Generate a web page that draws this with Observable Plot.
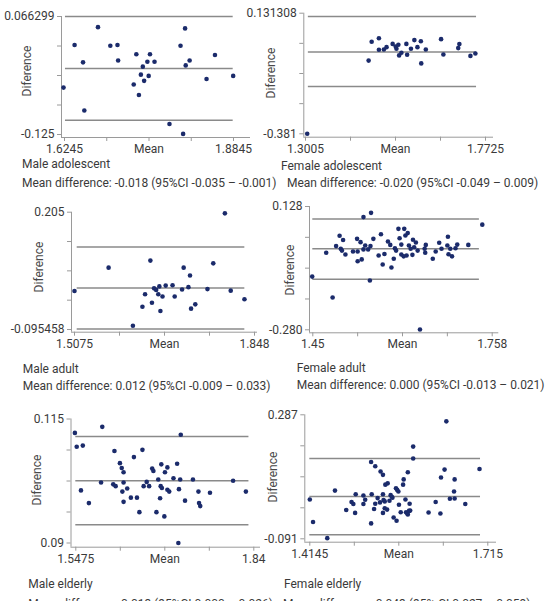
<!DOCTYPE html>
<html><head><meta charset="utf-8">
<script src="https://cdn.jsdelivr.net/npm/d3@7"></script>
<script src="https://cdn.jsdelivr.net/npm/@observablehq/plot@0.6"></script>
<style>
html,body{margin:0;padding:0;background:#fff;overflow:hidden;}
#root{position:relative;width:547px;height:601px;overflow:hidden;font-family:Roboto,"Liberation Sans",sans-serif;}
#root svg{position:absolute;left:0;top:0;}
.cap{position:absolute;white-space:nowrap;font-size:12px;line-height:14px;color:#3a3a3a;}
.ylab{position:absolute;white-space:nowrap;font-size:12px;color:#4a4a4a;transform:translate(-50%,-50%) rotate(-90deg);}
</style></head>
<body><div id="root"></div>
<script>
// ---------- data ----------
const maleAdolescentMean = [1.623,1.640,1.653,1.655,1.676,1.695,1.706,1.707,1.735,1.731,1.739,1.742,1.745,1.747,1.752,1.754,1.756,1.763,1.786,1.803,1.807,1.810,1.811,1.817,1.843,1.856,1.884];
const maleAdolescentDiff = [-0.049,0.020,-0.008,-0.086,0.049,0.019,0.020,-0.005,0.005,-0.044,-0.061,-0.028,-0.015,-0.038,-0.007,-0.030,0.005,-0.007,-0.108,0.019,-0.124,0.047,-0.013,-0.005,-0.035,0.004,-0.030];
const maleAdolescentLimits = [0.0663,-0.018,-0.102];
const maleAdolescentSpan = [1.626,1.884];
const maleAdolescentX = [1.6245,1.8845];
const maleAdolescentY = [-0.125,0.066299];
const maleAdolescentXLabels = ["1.6245","","Mean","","1.8845"];
const maleAdolescentYLabels = ["-0.125","","","","0.066299"];

const femaleAdolescentMean = [1.305,1.466,1.474,1.493,1.493,1.506,1.513,1.529,1.537,1.539,1.544,1.546,1.552,1.565,1.567,1.577,1.586,1.594,1.603,1.604,1.616,1.656,1.662,1.701,1.704,1.733,1.746];
const femaleAdolescentDiff = [-0.381,-0.070,0.010,0.025,-0.024,-0.023,-0.013,0.001,-0.010,-0.020,-0.003,-0.048,-0.037,0.001,-0.045,-0.020,0.017,-0.013,0.012,-0.082,-0.023,0.021,-0.044,-0.017,0.000,-0.050,-0.040];
const femaleAdolescentLimits = [0.117,-0.033,-0.180];
const femaleAdolescentSpan = [1.308,1.749];
const femaleAdolescentX = [1.3005,1.7725];
const femaleAdolescentY = [-0.381,0.131308];
const femaleAdolescentXLabels = ["1.3005","","Mean","","1.7725"];
const femaleAdolescentYLabels = ["-0.381","","","","0.131308"];

const maleAdultMean = [1.5075,1.572,1.618,1.636,1.641,1.651,1.654,1.658,1.662,1.666,1.668,1.670,1.674,1.680,1.693,1.697,1.711,1.714,1.723,1.726,1.728,1.736,1.759,1.770,1.792,1.803,1.829];
const maleAdultDiff = [0.003,0.063,-0.086,-0.037,-0.005,0.081,-0.027,0.010,0.006,-0.005,0.015,-0.048,-0.011,0.017,0.018,-0.011,0.007,0.063,0.013,0.043,-0.042,-0.031,0.008,0.074,0.202,0.004,-0.018];
const maleAdultLimits = [0.116,0.011,-0.094];
const maleAdultSpan = [1.5126,1.8297];
const maleAdultX = [1.5075,1.848];
const maleAdultY = [-0.095458,0.205];
const maleAdultXLabels = ["1.5075","","Mean","","1.848"];
const maleAdultYLabels = ["-0.095458","","","","0.205"];

const femaleAdultMean = [1.449,1.473,1.484,1.490,1.496,1.498,1.500,1.502,1.506,1.519,1.526,1.527,1.527,1.532,1.534,1.537,1.537,1.540,1.545,1.548,1.549,1.550,1.554,1.563,1.567,1.570,1.573,1.579,1.583,1.585,1.589,1.591,1.593,1.597,1.599,1.602,1.602,1.606,1.607,1.609,1.611,1.613,1.615,1.618,1.621,1.622,1.624,1.627,1.630,1.634,1.642,1.644,1.643,1.656,1.661,1.667,1.671,1.681,1.682,1.683,1.686,1.689,1.695,1.698,1.717,1.741];
const femaleAdultDiff = [-0.104,-0.025,-0.173,-0.003,0.031,-0.012,-0.018,0.017,-0.031,-0.021,0.021,-0.053,-0.021,0.010,-0.047,0.093,-0.014,-0.001,-0.014,-0.117,-0.003,0.107,0.021,-0.034,0.036,-0.064,-0.029,0.012,0.001,-0.074,-0.045,-0.010,-0.018,0.054,0.023,-0.031,0.002,-0.037,0.054,0.032,-0.034,0.040,-0.001,-0.012,-0.032,0.018,-0.007,0.009,-0.018,-0.279,-0.012,0.001,-0.025,-0.045,-0.021,0.008,-0.012,-0.001,0.028,-0.030,-0.012,-0.037,-0.010,0.002,0.001,0.068];
const femaleAdultLimits = [0.087,-0.012,-0.113];
const femaleAdultSpan = [1.45,1.736];
const femaleAdultX = [1.45,1.758];
const femaleAdultY = [-0.280,0.128];
const femaleAdultXLabels = ["1.45","","Mean","","1.758"];
const femaleAdultYLabels = ["-0.280","","","","0.128"];

const maleElderlyMean = [1.546,1.549,1.559,1.556,1.569,1.591,1.589,1.611,1.609,1.613,1.620,1.623,1.626,1.624,1.626,1.626,1.632,1.638,1.643,1.648,1.652,1.657,1.659,1.664,1.668,1.673,1.675,1.680,1.683,1.686,1.687,1.688,1.689,1.693,1.694,1.698,1.698,1.701,1.708,1.714,1.717,1.716,1.720,1.719,1.727,1.740,1.749,1.750,1.752,1.768,1.806,1.827];
const maleElderlyDiff = [0.092,0.069,0.071,-0.003,-0.024,0.102,0.010,0.062,0.007,0.004,0.042,0.034,0.027,-0.005,0.010,-0.022,0.000,-0.015,0.052,-0.015,-0.039,0.064,0.004,0.011,0.004,0.033,0.029,-0.039,0.015,-0.016,0.004,0.040,0.001,-0.046,0.027,0.035,-0.002,-0.005,0.017,0.041,-0.001,-0.090,0.089,0.015,-0.020,0.015,-0.005,-0.024,-0.029,-0.007,0.013,-0.005];
const maleElderlyLimits = [0.086,0.013,-0.060];
const maleElderlySpan = [1.5475,1.832];
const maleElderlyX = [1.5475,1.84];
const maleElderlyY = [-0.09,0.115];
const maleElderlyXLabels = ["1.5475","","Mean","","1.84"];
const maleElderlyYLabels = ["0.09","","","","0.115"];

const femaleElderlyMean = [1.4145,1.420,1.444,1.457,1.476,1.485,1.488,1.491,1.492,1.505,1.505,1.508,1.518,1.518,1.519,1.523,1.525,1.525,1.529,1.533,1.534,1.538,1.538,1.538,1.539,1.541,1.541,1.542,1.545,1.546,1.549,1.551,1.553,1.554,1.556,1.560,1.561,1.562,1.564,1.565,1.568,1.572,1.573,1.576,1.577,1.579,1.580,1.580,1.582,1.583,1.584,1.589,1.589,1.615,1.627,1.635,1.636,1.642,1.645,1.651,1.658,1.659,1.659,1.677,1.701];
const femaleElderlyDiff = [0.029,-0.040,-0.089,0.056,-0.003,0.021,0.015,-0.012,0.045,0.041,0.015,0.028,0.143,-0.044,0.045,0.000,0.130,0.016,0.033,0.020,0.114,0.104,0.045,-0.012,0.027,0.023,0.002,0.074,-0.002,0.078,0.025,0.042,0.037,0.034,-0.026,0.063,-0.036,0.058,0.053,0.013,-0.010,0.074,0.090,0.029,-0.010,-0.014,0.112,-0.017,-0.006,0.016,-0.005,0.190,0.154,-0.011,0.021,-0.014,0.096,0.120,0.267,0.031,0.053,0.090,0.032,0.015,0.122];
const femaleElderlyLimits = [0.154,0.038,-0.079];
const femaleElderlySpan = [1.4145,1.7027];
const femaleElderlyX = [1.4145,1.715];
const femaleElderlyY = [-0.091,0.287];
const femaleElderlyXLabels = ["1.4145","","Mean","","1.715"];
const femaleElderlyYLabels = ["-0.091","","","","0.287"];

const groupNames = ["Male adolescent","Female adolescent","Male adult","Female adult","Male elderly","Female elderly"];
const meanDiffTexts = [
  "Mean difference: -0.018 (95%CI -0.035 \u2013 -0.001)",
  "Mean difference: -0.020 (95%CI -0.049 \u2013 0.009)",
  "Mean difference: 0.012 (95%CI -0.009 \u2013 0.033)",
  "Mean difference: 0.000 (95%CI -0.013 \u2013 0.021)",
  "Mean difference: 0.013 (95%CI 0.000 \u2013 0.026)",
  "Mean difference: 0.043 (95% CI 0.027 \u2013 0.059)"
];
const yAxisTitle = "Diference";

// ---------- layout (pixels) ----------
const W = 547, H = 601;
const layouts = [
  {axisX:61, top:16, bottomTick:134, xAxisY:137, xAxisEnd:250, xt0:64, xt4:233, ylab:[27,71], capX:22, capY:157, cap2X:22, cap2Y:176},
  {axisX:303.3, top:12.7, bottomTick:133.3, xAxisY:136.7, xAxisEnd:493, xt0:305, xt4:485, ylab:[271,73], capX:281, capY:159, cap2X:287, cap2Y:176},
  {axisX:71, top:211.7, bottomTick:329, xAxisY:331.7, xAxisEnd:257, xt0:74, xt4:254, ylab:[39,267], capX:22.7, capY:362, cap2X:22.7, cap2Y:379},
  {axisX:309, top:206, bottomTick:329.3, xAxisY:332.3, xAxisEnd:498.3, xt0:312.3, xt4:491.7, ylab:[290,270], capX:296.7, capY:361, cap2X:296.7, cap2Y:378},
  {axisX:70.5, top:418.5, bottomTick:542.5, xAxisY:546.7, xAxisEnd:260, xt0:75.3, xt4:253.3, ylab:[37.3,480], capX:28.3, capY:577, cap2X:28.3, cap2Y:597},
  {axisX:304.3, top:414.3, bottomTick:538.3, xAxisY:541.7, xAxisEnd:496, xt0:309.3, xt4:487.3, ylab:[273,477], capX:284, capY:577, cap2X:283, cap2Y:597}
];

const panels = [
  {mean:maleAdolescentMean, diff:maleAdolescentDiff, limits:maleAdolescentLimits, span:maleAdolescentSpan, x:maleAdolescentX, y:maleAdolescentY, xl:maleAdolescentXLabels, yl:maleAdolescentYLabels},
  {mean:femaleAdolescentMean, diff:femaleAdolescentDiff, limits:femaleAdolescentLimits, span:femaleAdolescentSpan, x:femaleAdolescentX, y:femaleAdolescentY, xl:femaleAdolescentXLabels, yl:femaleAdolescentYLabels},
  {mean:maleAdultMean, diff:maleAdultDiff, limits:maleAdultLimits, span:maleAdultSpan, x:maleAdultX, y:maleAdultY, xl:maleAdultXLabels, yl:maleAdultYLabels},
  {mean:femaleAdultMean, diff:femaleAdultDiff, limits:femaleAdultLimits, span:femaleAdultSpan, x:femaleAdultX, y:femaleAdultY, xl:femaleAdultXLabels, yl:femaleAdultYLabels},
  {mean:maleElderlyMean, diff:maleElderlyDiff, limits:maleElderlyLimits, span:maleElderlySpan, x:maleElderlyX, y:maleElderlyY, xl:maleElderlyXLabels, yl:maleElderlyYLabels},
  {mean:femaleElderlyMean, diff:femaleElderlyDiff, limits:femaleElderlyLimits, span:femaleElderlySpan, x:femaleElderlyX, y:femaleElderlyY, xl:femaleElderlyXLabels, yl:femaleElderlyYLabels}
];

const root = document.getElementById("root");
const lineColor = "#8a8a8a", axisColor = "#9a9a9a", textColor = "#3a3a3a", dotColor = "#1b2b6b";

panels.forEach((p, k) => {
  const L = layouts[k];
  const xt = d3.range(5).map(i => p.x[0] + i * (p.x[1] - p.x[0]) / 4);
  const yt = d3.range(5).map(i => p.y[0] + i * (p.y[1] - p.y[0]) / 4);
  const xFmt = new Map(xt.map((t, i) => [t, p.xl[i]]));
  const yFmt = new Map(yt.map((t, i) => [t, p.yl[i]]));
  const pts = p.mean.map((m, i) => ({m, d: p.diff[i]}));
  const svg = Plot.plot({
    width: W, height: H,
    marginLeft: L.axisX, marginTop: L.top, marginBottom: H - L.xAxisY, marginRight: W - L.xAxisEnd,
    x: {domain: p.x, range: [L.xt0, L.xt4]},
    y: {domain: p.y, range: [L.bottomTick, L.top]},
    style: {background: "transparent", fontFamily: "Roboto, 'Liberation Sans', sans-serif", fontSize: "12px", color: textColor, overflow: "visible"},
    marks: [
      Plot.ruleY(p.limits, {x1: p.span[0], x2: p.span[1], stroke: lineColor, strokeWidth: 1.5}),
      Plot.ruleX([p.x[0]], {dx: L.axisX - L.xt0, stroke: axisColor, strokeWidth: 1}),
      Plot.ruleY([p.y[0]], {dy: L.xAxisY - L.bottomTick, stroke: axisColor, strokeWidth: 1}),
      Plot.axisY(yt, {anchor: "left", tickSize: 4, tickPadding: 3, stroke: axisColor, fill: textColor, tickFormat: d => yFmt.get(d), label: null}),
      Plot.axisX(xt, {anchor: "bottom", tickSize: 4, tickPadding: 3, stroke: axisColor, fill: textColor, tickFormat: d => xFmt.get(d), label: null}),
      Plot.dot(pts, {x: "m", y: "d", r: 2.3, fill: dotColor, stroke: null})
    ]
  });
  root.appendChild(svg);

  const yl = document.createElement("div");
  yl.className = "ylab"; yl.textContent = yAxisTitle;
  yl.style.left = L.ylab[0] + "px"; yl.style.top = L.ylab[1] + "px";
  root.appendChild(yl);

  const c1 = document.createElement("div");
  c1.className = "cap"; c1.textContent = groupNames[k];
  c1.style.left = L.capX + "px"; c1.style.top = L.capY + "px";
  root.appendChild(c1);

  const c2 = document.createElement("div");
  c2.className = "cap"; c2.textContent = meanDiffTexts[k];
  c2.style.left = L.cap2X + "px"; c2.style.top = L.cap2Y + "px";
  root.appendChild(c2);
});
</script>
</body></html>
